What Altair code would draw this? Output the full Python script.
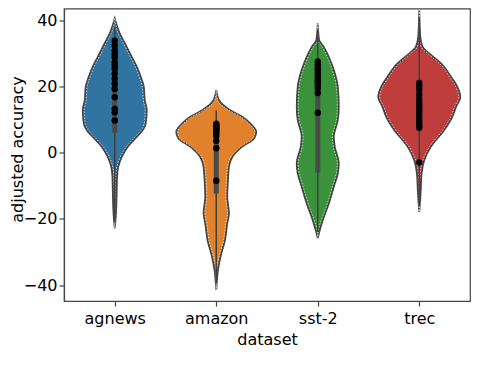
import json
import altair as alt
import pandas as pd

categories = ["agnews", "amazon", "sst-2", "trec"]
colors = ["#3274a1", "#e1812c", "#3a923a", "#c03d3e"]

# violin outlines: value and half-width (fraction of a category slot)
agnews_v = [40.5, 36.0, 33.0, 28.9, 25.9, 22.9, 19.9, 15.8, 12.8, 8.8, 6.8, 4.8, 1.8, -1.3, -4.3, -7.3, -14.3, -18.4, -22.9]
agnews_w = [0, .049, .099, .167, .217, .256, .286, .296, .315, .305, .276, .217, .128, .069, .034, .023, .017, .012, 0]
amazon_v = [18.9, 15.8, 12.8, 10.8, 8.8, 6.3, 4.3, 1.8, -1.3, -4.3, -8.3, -13.3, -18.4, -21.4, -26.4, -31.4, -35.5, -41.5]
amazon_w = [0, .027, .138, .256, .335, .394, .374, .256, .158, .125, .115, .108, .125, .108, .086, .042, .017, 0]
sst2_v = [39.0, 34.0, 31.9, 28.9, 24.9, 19.9, 13.8, 9.8, 4.8, 1.8, -3.3, -6.3, -10.3, -15.4, -20.4, -23.4, -25.9]
sst2_w = [0, .013, .059, .108, .158, .197, .207, .197, .158, .167, .207, .197, .158, .108, .049, .020, 0]
trec_v = [43.3, 35.0, 31.9, 29.9, 26.9, 22.9, 19.9, 16.8, 13.8, 10.8, 6.8, 1.8, -2.3, -6.3, -12.3, -17.9]
trec_w = [0, .010, .033, .099, .214, .312, .374, .404, .362, .325, .246, .115, .049, .023, .013, 0]

# inner box: whisker low/high, quartiles
whisker_lo = [-21, -39.5, -24, -16]
whisker_hi = [38, 12.7, 37, 41]
q1 = [6, -12.4, -6, 8]
q3 = [34, 9, 28, 21]

# strip points
agnews_pts = [33.8, 32.3, 30.8, 29.8, 28.8, 27.3, 26.3, 25.3, 23.8, 22.3, 20.8, 19.2, 16.7, 13.2, 12.2, 9.7]
amazon_pts = [8.7, 8.3, 8.0, 7.6, 7.3, 6.9, 6.5, 5.8, 5.1, 3.6, 1.3, -8.5]
sst2_pts = [27.5, 26.5, 25.5, 25.0, 24.0, 23.0, 22.0, 21.5, 20.5, 19.5, 18.0, 12.0]
trec_pts = [21.0, 20.0, 19.0, 17.5, 16.0, 15.0, 14.0, 13.0, 12.0, 11.0, 10.0, 9.0, 8.0, 7.5, -3.0]

vio_rows = []
for i, (vs, ws) in enumerate([(agnews_v, agnews_w), (amazon_v, amazon_w), (sst2_v, sst2_w), (trec_v, trec_w)]):
    for v, w in zip(vs, ws):
        vio_rows.append({"cat": categories[i], "idx": i, "value": v, "w": w})
vio = pd.DataFrame(vio_rows)

box = pd.DataFrame({"cat": categories, "idx": list(range(4)), "lo": whisker_lo, "hi": whisker_hi, "q1": q1, "q3": q3})

pt_rows = []
for i, pts in enumerate([agnews_pts, amazon_pts, sst2_pts, trec_pts]):
    for p in pts:
        pt_rows.append({"cat": categories[i], "idx": i, "value": p})
pts_df = pd.DataFrame(pt_rows)

xscale = alt.Scale(domain=[-0.5, 3.5], nice=False, zero=False)
yscale = alt.Scale(domain=[-44.8, 43.5], nice=False, zero=False)
xaxis = alt.Axis(values=[0, 1, 2, 3], labelExpr=json.dumps(categories) + "[datum.value]",
                 title="dataset", grid=False, labelPadding=4, titlePadding=5)
yaxis = alt.Axis(values=[-40, -20, 0, 20, 40], title="adjusted accuracy", grid=False,
                 labelPadding=2, titleX=-55, titleY=140.5, titleBaseline="top",
                 titleAngle=270, titleAlign="center")
color = alt.Color("cat:N", scale=alt.Scale(domain=categories, range=colors), legend=None)

base_v = alt.Chart(vio).transform_calculate(
    xl="datum.idx - datum.w", xr="datum.idx + datum.w",
    wi="max(datum.w - 0.014, 0)",
).transform_calculate(xl2="datum.idx - datum.wi", xr2="datum.idx + datum.wi")

violins = base_v.mark_area(orient="horizontal", interpolate="monotone", stroke="#444444",
                           strokeWidth=1.8, opacity=1).encode(
    y=alt.Y("value:Q", scale=yscale, axis=yaxis),
    x=alt.X("xl:Q", scale=xscale, axis=xaxis, stack=None),
    x2="xr:Q",
    color=color,
)
inner = base_v.mark_area(orient="horizontal", interpolate="monotone", fillOpacity=0,
                         stroke="white", strokeWidth=0.7, strokeDash=[1.5, 1.5]).encode(
    y=alt.Y("value:Q", scale=yscale),
    x=alt.X("xl2:Q", scale=xscale, stack=None),
    x2="xr2:Q",
    detail="cat:N",
)
whisk = alt.Chart(box).mark_rule(color="#3f3f3f", strokeWidth=1.5).encode(
    x=alt.X("idx:Q", scale=xscale), y=alt.Y("lo:Q", scale=yscale), y2="hi:Q")
thick = alt.Chart(box).mark_rule(color="#4a4a4a", strokeWidth=5).encode(
    x=alt.X("idx:Q", scale=xscale), y=alt.Y("q1:Q", scale=yscale), y2="q3:Q")
dots = alt.Chart(pts_df).mark_circle(color="black", size=42, opacity=1).encode(
    x=alt.X("idx:Q", scale=xscale), y=alt.Y("value:Q", scale=yscale))

chart = alt.layer(violins, inner, whisk, thick, dots).properties(
    width=406, height=292.5,
    autosize=alt.AutoSizeParams(type="none"),
    padding={"left": 56, "top": 0.5, "right": 24, "bottom": 69},
).configure_view(stroke="#444", strokeWidth=1.2).configure_axis(
    labelFont="DejaVu Sans", titleFont="DejaVu Sans", labelFontSize=16, titleFontSize=16,
    titleFontWeight="normal", labelColor="black", titleColor="black",
    domainColor="#444", tickColor="#444", tickSize=5, domainWidth=1.2, tickWidth=1.2,
)

chart.save("out.html", embed_options={"renderer": "svg", "actions": False})
